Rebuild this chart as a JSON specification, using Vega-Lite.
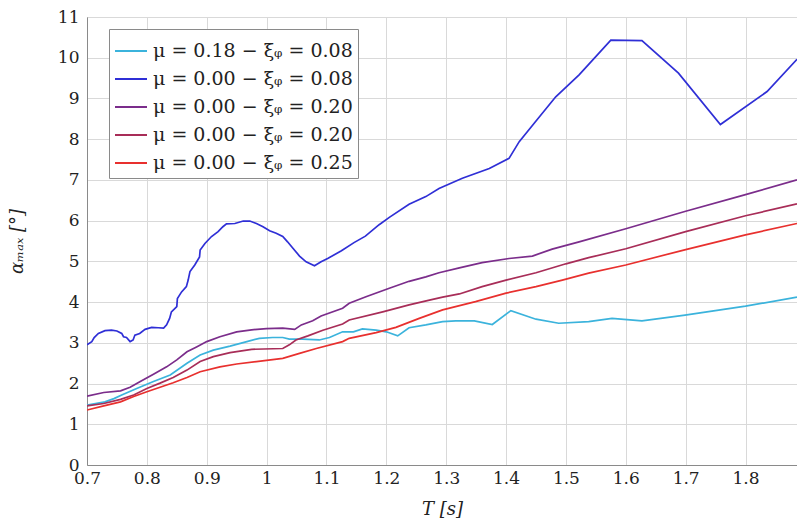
{
  "$schema": "https://vega.github.io/schema/vega-lite/v6.json",
  "autosize": {"type": "none"},
  "width": 710,
  "height": 448,
  "padding": {"left": 87, "top": 17, "right": 0, "bottom": 62},
  "background": "white",
  "config": {
    "font": "DejaVu Serif",
    "view": {"stroke": "#8a8a8a", "strokeWidth": 1},
    "axis": {
      "gridColor": "#d9d9d9",
      "gridWidth": 1,
      "domainColor": "#8a8a8a",
      "ticks": false,
      "labelFlush": false,
      "labelFont": "DejaVu Serif",
      "labelFontSize": 17,
      "labelColor": "#222222",
      "titleFont": "DejaVu Serif",
      "titleFontSize": 18,
      "titleFontWeight": "normal",
      "titleColor": "#222222"
    },
    "legend": {
      "strokeColor": "#8a8a8a",
      "fillColor": "white",
      "padding": 5,
      "rowPadding": 1,
      "symbolType": "stroke",
      "symbolSize": 1024,
      "symbolStrokeWidth": 2,
      "labelOffset": 5,
      "labelFont": "DejaVu Serif",
      "labelFontSize": 19,
      "labelColor": "#222222",
      "labelLimit": 400
    }
  },
  "data": {
    "values": [
      {"s": "a", "T": 0.700, "v": 1.47},
      {"s": "a", "T": 0.730, "v": 1.55},
      {"s": "a", "T": 0.745, "v": 1.63},
      {"s": "a", "T": 0.758, "v": 1.72},
      {"s": "a", "T": 0.783, "v": 1.88},
      {"s": "a", "T": 0.811, "v": 2.05},
      {"s": "a", "T": 0.839, "v": 2.21},
      {"s": "a", "T": 0.867, "v": 2.50},
      {"s": "a", "T": 0.889, "v": 2.70},
      {"s": "a", "T": 0.911, "v": 2.82},
      {"s": "a", "T": 0.939, "v": 2.92},
      {"s": "a", "T": 0.967, "v": 3.03},
      {"s": "a", "T": 0.988, "v": 3.11},
      {"s": "a", "T": 1.010, "v": 3.13},
      {"s": "a", "T": 1.027, "v": 3.13},
      {"s": "a", "T": 1.038, "v": 3.09},
      {"s": "a", "T": 1.060, "v": 3.09},
      {"s": "a", "T": 1.088, "v": 3.07},
      {"s": "a", "T": 1.105, "v": 3.13},
      {"s": "a", "T": 1.127, "v": 3.27},
      {"s": "a", "T": 1.145, "v": 3.27},
      {"s": "a", "T": 1.160, "v": 3.34},
      {"s": "a", "T": 1.183, "v": 3.31},
      {"s": "a", "T": 1.200, "v": 3.27},
      {"s": "a", "T": 1.219, "v": 3.17},
      {"s": "a", "T": 1.238, "v": 3.37},
      {"s": "a", "T": 1.266, "v": 3.44},
      {"s": "a", "T": 1.294, "v": 3.52},
      {"s": "a", "T": 1.316, "v": 3.54},
      {"s": "a", "T": 1.347, "v": 3.54},
      {"s": "a", "T": 1.377, "v": 3.45},
      {"s": "a", "T": 1.408, "v": 3.79},
      {"s": "a", "T": 1.450, "v": 3.58},
      {"s": "a", "T": 1.488, "v": 3.48},
      {"s": "a", "T": 1.538, "v": 3.52},
      {"s": "a", "T": 1.577, "v": 3.60},
      {"s": "a", "T": 1.627, "v": 3.54},
      {"s": "a", "T": 1.699, "v": 3.68},
      {"s": "a", "T": 1.800, "v": 3.90},
      {"s": "a", "T": 1.886, "v": 4.12},

      {"s": "b", "T": 0.700, "v": 2.95},
      {"s": "b", "T": 0.708, "v": 3.03},
      {"s": "b", "T": 0.712, "v": 3.13},
      {"s": "b", "T": 0.719, "v": 3.23},
      {"s": "b", "T": 0.730, "v": 3.30},
      {"s": "b", "T": 0.741, "v": 3.31},
      {"s": "b", "T": 0.750, "v": 3.29},
      {"s": "b", "T": 0.758, "v": 3.23},
      {"s": "b", "T": 0.761, "v": 3.15},
      {"s": "b", "T": 0.766, "v": 3.13},
      {"s": "b", "T": 0.772, "v": 3.03},
      {"s": "b", "T": 0.777, "v": 3.07},
      {"s": "b", "T": 0.780, "v": 3.19},
      {"s": "b", "T": 0.788, "v": 3.23},
      {"s": "b", "T": 0.797, "v": 3.33},
      {"s": "b", "T": 0.808, "v": 3.38},
      {"s": "b", "T": 0.819, "v": 3.37},
      {"s": "b", "T": 0.828, "v": 3.36},
      {"s": "b", "T": 0.833, "v": 3.44},
      {"s": "b", "T": 0.838, "v": 3.60},
      {"s": "b", "T": 0.841, "v": 3.76},
      {"s": "b", "T": 0.850, "v": 3.89},
      {"s": "b", "T": 0.851, "v": 4.09},
      {"s": "b", "T": 0.858, "v": 4.25},
      {"s": "b", "T": 0.866, "v": 4.38},
      {"s": "b", "T": 0.869, "v": 4.54},
      {"s": "b", "T": 0.872, "v": 4.75},
      {"s": "b", "T": 0.880, "v": 4.91},
      {"s": "b", "T": 0.888, "v": 5.11},
      {"s": "b", "T": 0.889, "v": 5.28},
      {"s": "b", "T": 0.897, "v": 5.44},
      {"s": "b", "T": 0.908, "v": 5.61},
      {"s": "b", "T": 0.919, "v": 5.73},
      {"s": "b", "T": 0.927, "v": 5.85},
      {"s": "b", "T": 0.933, "v": 5.92},
      {"s": "b", "T": 0.947, "v": 5.93},
      {"s": "b", "T": 0.961, "v": 5.99},
      {"s": "b", "T": 0.972, "v": 5.99},
      {"s": "b", "T": 0.983, "v": 5.93},
      {"s": "b", "T": 0.994, "v": 5.85},
      {"s": "b", "T": 1.005, "v": 5.75},
      {"s": "b", "T": 1.016, "v": 5.69},
      {"s": "b", "T": 1.027, "v": 5.61},
      {"s": "b", "T": 1.035, "v": 5.48},
      {"s": "b", "T": 1.044, "v": 5.32},
      {"s": "b", "T": 1.055, "v": 5.13},
      {"s": "b", "T": 1.066, "v": 4.99},
      {"s": "b", "T": 1.080, "v": 4.89},
      {"s": "b", "T": 1.091, "v": 4.99},
      {"s": "b", "T": 1.102, "v": 5.07},
      {"s": "b", "T": 1.125, "v": 5.26},
      {"s": "b", "T": 1.146, "v": 5.46},
      {"s": "b", "T": 1.165, "v": 5.62},
      {"s": "b", "T": 1.188, "v": 5.90},
      {"s": "b", "T": 1.205, "v": 6.08},
      {"s": "b", "T": 1.238, "v": 6.40},
      {"s": "b", "T": 1.266, "v": 6.59},
      {"s": "b", "T": 1.288, "v": 6.79},
      {"s": "b", "T": 1.327, "v": 7.04},
      {"s": "b", "T": 1.372, "v": 7.28},
      {"s": "b", "T": 1.405, "v": 7.53},
      {"s": "b", "T": 1.422, "v": 7.94},
      {"s": "b", "T": 1.447, "v": 8.39},
      {"s": "b", "T": 1.483, "v": 9.04},
      {"s": "b", "T": 1.522, "v": 9.58},
      {"s": "b", "T": 1.575, "v": 10.43},
      {"s": "b", "T": 1.627, "v": 10.42},
      {"s": "b", "T": 1.688, "v": 9.62},
      {"s": "b", "T": 1.758, "v": 8.36},
      {"s": "b", "T": 1.836, "v": 9.17},
      {"s": "b", "T": 1.886, "v": 9.96},

      {"s": "c", "T": 0.700, "v": 1.69},
      {"s": "c", "T": 0.728, "v": 1.78},
      {"s": "c", "T": 0.756, "v": 1.82},
      {"s": "c", "T": 0.772, "v": 1.91},
      {"s": "c", "T": 0.789, "v": 2.05},
      {"s": "c", "T": 0.811, "v": 2.23},
      {"s": "c", "T": 0.833, "v": 2.41},
      {"s": "c", "T": 0.850, "v": 2.58},
      {"s": "c", "T": 0.867, "v": 2.78},
      {"s": "c", "T": 0.883, "v": 2.90},
      {"s": "c", "T": 0.900, "v": 3.03},
      {"s": "c", "T": 0.922, "v": 3.15},
      {"s": "c", "T": 0.950, "v": 3.27},
      {"s": "c", "T": 0.975, "v": 3.32},
      {"s": "c", "T": 1.000, "v": 3.35},
      {"s": "c", "T": 1.027, "v": 3.36},
      {"s": "c", "T": 1.047, "v": 3.33},
      {"s": "c", "T": 1.058, "v": 3.44},
      {"s": "c", "T": 1.077, "v": 3.54},
      {"s": "c", "T": 1.091, "v": 3.66},
      {"s": "c", "T": 1.127, "v": 3.85},
      {"s": "c", "T": 1.138, "v": 3.97},
      {"s": "c", "T": 1.166, "v": 4.13},
      {"s": "c", "T": 1.205, "v": 4.34},
      {"s": "c", "T": 1.238, "v": 4.51},
      {"s": "c", "T": 1.266, "v": 4.62},
      {"s": "c", "T": 1.288, "v": 4.72},
      {"s": "c", "T": 1.322, "v": 4.84},
      {"s": "c", "T": 1.360, "v": 4.97},
      {"s": "c", "T": 1.405, "v": 5.07},
      {"s": "c", "T": 1.444, "v": 5.13},
      {"s": "c", "T": 1.477, "v": 5.30},
      {"s": "c", "T": 1.522, "v": 5.48},
      {"s": "c", "T": 1.600, "v": 5.80},
      {"s": "c", "T": 1.700, "v": 6.23},
      {"s": "c", "T": 1.800, "v": 6.64},
      {"s": "c", "T": 1.886, "v": 7.00},

      {"s": "d", "T": 0.700, "v": 1.45},
      {"s": "d", "T": 0.728, "v": 1.51},
      {"s": "d", "T": 0.756, "v": 1.61},
      {"s": "d", "T": 0.778, "v": 1.72},
      {"s": "d", "T": 0.800, "v": 1.88},
      {"s": "d", "T": 0.822, "v": 2.01},
      {"s": "d", "T": 0.844, "v": 2.15},
      {"s": "d", "T": 0.867, "v": 2.33},
      {"s": "d", "T": 0.889, "v": 2.54},
      {"s": "d", "T": 0.911, "v": 2.66},
      {"s": "d", "T": 0.939, "v": 2.76},
      {"s": "d", "T": 0.975, "v": 2.84},
      {"s": "d", "T": 1.027, "v": 2.86},
      {"s": "d", "T": 1.038, "v": 2.95},
      {"s": "d", "T": 1.049, "v": 3.07},
      {"s": "d", "T": 1.069, "v": 3.17},
      {"s": "d", "T": 1.094, "v": 3.31},
      {"s": "d", "T": 1.127, "v": 3.46},
      {"s": "d", "T": 1.138, "v": 3.56},
      {"s": "d", "T": 1.194, "v": 3.76},
      {"s": "d", "T": 1.238, "v": 3.93},
      {"s": "d", "T": 1.272, "v": 4.05},
      {"s": "d", "T": 1.294, "v": 4.12},
      {"s": "d", "T": 1.322, "v": 4.20},
      {"s": "d", "T": 1.360, "v": 4.38},
      {"s": "d", "T": 1.400, "v": 4.54},
      {"s": "d", "T": 1.450, "v": 4.72},
      {"s": "d", "T": 1.500, "v": 4.94},
      {"s": "d", "T": 1.538, "v": 5.09},
      {"s": "d", "T": 1.600, "v": 5.31},
      {"s": "d", "T": 1.700, "v": 5.73},
      {"s": "d", "T": 1.800, "v": 6.12},
      {"s": "d", "T": 1.886, "v": 6.41},

      {"s": "e", "T": 0.700, "v": 1.35},
      {"s": "e", "T": 0.728, "v": 1.45},
      {"s": "e", "T": 0.756, "v": 1.55},
      {"s": "e", "T": 0.778, "v": 1.68},
      {"s": "e", "T": 0.800, "v": 1.80},
      {"s": "e", "T": 0.822, "v": 1.91},
      {"s": "e", "T": 0.844, "v": 2.02},
      {"s": "e", "T": 0.867, "v": 2.15},
      {"s": "e", "T": 0.889, "v": 2.29},
      {"s": "e", "T": 0.922, "v": 2.41},
      {"s": "e", "T": 0.950, "v": 2.48},
      {"s": "e", "T": 0.983, "v": 2.54},
      {"s": "e", "T": 1.027, "v": 2.62},
      {"s": "e", "T": 1.055, "v": 2.74},
      {"s": "e", "T": 1.083, "v": 2.86},
      {"s": "e", "T": 1.127, "v": 3.03},
      {"s": "e", "T": 1.138, "v": 3.11},
      {"s": "e", "T": 1.183, "v": 3.25},
      {"s": "e", "T": 1.216, "v": 3.38},
      {"s": "e", "T": 1.255, "v": 3.60},
      {"s": "e", "T": 1.294, "v": 3.81},
      {"s": "e", "T": 1.349, "v": 4.01},
      {"s": "e", "T": 1.400, "v": 4.22},
      {"s": "e", "T": 1.450, "v": 4.38},
      {"s": "e", "T": 1.494, "v": 4.54},
      {"s": "e", "T": 1.538, "v": 4.71},
      {"s": "e", "T": 1.600, "v": 4.91},
      {"s": "e", "T": 1.700, "v": 5.29},
      {"s": "e", "T": 1.800, "v": 5.65},
      {"s": "e", "T": 1.886, "v": 5.93}
    ]
  },
  "mark": {"type": "line", "strokeWidth": 1.7, "clip": true},
  "encoding": {
    "x": {
      "field": "T",
      "type": "quantitative",
      "scale": {"domain": [0.7, 1.886], "nice": false, "zero": false},
      "axis": {
        "title": "T [s]",
        "titleFontStyle": "italic",
        "values": [0.7, 0.8, 0.9, 1.0, 1.1, 1.2, 1.3, 1.4, 1.5, 1.6, 1.7, 1.8],
        "labelExpr": "format(datum.value, '.2~f')",
        "labelPadding": 5,
        "titlePadding": 14
      }
    },
    "y": {
      "field": "v",
      "type": "quantitative",
      "scale": {"domain": [0, 11], "nice": false},
      "axis": {
        "title": "αₘₐₓ [°]",
        "titleFontStyle": "italic",
        "values": [0, 1, 2, 3, 4, 5, 6, 7, 8, 9, 10, 11],
        "labelPadding": 8,
        "titlePadding": 31
      }
    },
    "color": {
      "field": "s",
      "type": "nominal",
      "scale": {
        "domain": ["a", "b", "c", "d", "e"],
        "range": ["#3bb3dc", "#2f2fd6", "#7b2d8b", "#a82d58", "#e8302e"]
      },
      "legend": {
        "title": null,
        "orient": "none",
        "legendX": 22,
        "legendY": 12,
        "labelExpr": "datum.value == 'a' ? 'μ = 0.18 − ξᵩ = 0.08' : datum.value == 'b' ? 'μ = 0.00 − ξᵩ = 0.08' : datum.value == 'c' ? 'μ = 0.00 − ξᵩ = 0.20' : datum.value == 'd' ? 'μ = 0.00 − ξᵩ = 0.20' : 'μ = 0.00 − ξᵩ = 0.25'"
      }
    }
  }
}
